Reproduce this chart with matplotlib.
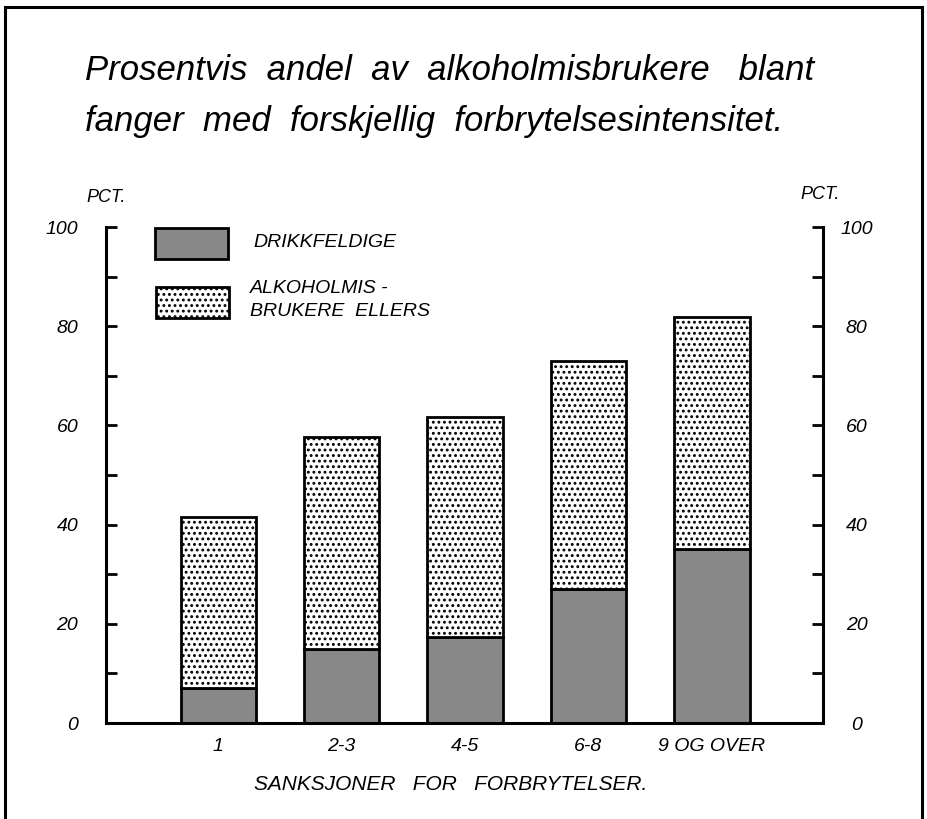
import matplotlib
matplotlib.use("Agg")
import matplotlib.pyplot as plt
import matplotlib.transforms as mtransforms
from matplotlib import font_manager
from matplotlib.patches import Rectangle
import numpy as np

# data
categories = ["1", "2-3", "4-5", "6-8", "9 OG OVER"]
drikkfeldige = [7.1, 14.9, 17.3, 27.0, 35.1]
totalt = [41.5, 57.7, 61.7, 73.0, 81.9]
ellers = [t - d for t, d in zip(totalt, drikkfeldige)]
yticks = [0, 20, 40, 60, 80, 100]

title_lines = ["Prosentvis  andel  av  alkoholmisbrukere   blant",
               "fanger  med  forskjellig  forbrytelsesintensitet."]
xlabel = "SANKSJONER   FOR   FORBRYTELSER."
legend_labels = ["DRIKKFELDIGE", "ALKOHOLMIS -\nBRUKERE  ELLERS"]

names = {f.name for f in font_manager.fontManager.ttflist}
FONT = "Liberation Sans" if "Liberation Sans" in names else "DejaVu Sans"
plt.rcParams['font.family'] = [FONT, 'DejaVu Sans']
plt.rcParams['font.style'] = 'italic'
plt.rcParams['hatch.linewidth'] = 1.3

DARK = '#888888'

fig = plt.figure(figsize=(9.28, 8.19), dpi=100)
fig.patch.set_facecolor('white')

# outer frame
fig.patches.append(Rectangle((5/928, -0.05), 917/928, 1.05 - 7/819, transform=fig.transFigure,
                             fill=False, lw=2.2, ec='black'))

# title
fig.text(85/928, 1 - 70/819, title_lines[0], fontsize=25, va='center', ha='left')
fig.text(85/928, 1 - 122/819, title_lines[1], fontsize=25, va='center', ha='left')

ax = fig.add_axes([106/928, 96/819, 717/928, 496/819])
x = np.arange(len(categories))
w = 0.61
ax.bar(x, drikkfeldige, w, color=DARK, edgecolor='black', lw=2)
ax.bar(x, ellers, w, bottom=drikkfeldige, color='white', edgecolor='black',
       lw=2, hatch='...')

ax.set_xlim(-0.91, 4.9)
ax.set_ylim(0, 100)
ax.spines['top'].set_visible(False)
for s in ['left', 'right', 'bottom']:
    ax.spines[s].set_linewidth(2.2)

ax.set_xticks(x)
ax.set_xticklabels(categories, fontsize=14)
ax.tick_params(axis='x', length=0, pad=11)

ax.set_yticks(yticks)
ax.set_yticks(np.arange(10, 100, 20), minor=True)
ax.tick_params(axis='y', which='both', direction='in', length=8, width=2,
               left=True, right=True, labelleft=True, labelright=True, labelsize=14)
ax.tick_params(axis='y', which='major', pad=20)
# right-hand labels sit a little further out, centred
shift = mtransforms.ScaledTranslation(6/100, 0, fig.dpi_scale_trans)
for t in ax.yaxis.get_major_ticks():
    t.label2.set_horizontalalignment('center')
    t.label2.set_transform(t.label2.get_transform() + shift)

ax.set_xlabel(xlabel, fontsize=15)
ax.xaxis.set_label_coords(0.481, -0.105)

ax.text(0.0, 1.06, "PCT.", transform=ax.transAxes, fontsize=13, ha='center', va='center')
ax.text(0.996, 1.065, "PCT.", transform=ax.transAxes, fontsize=13, ha='center', va='center')

# legend
ax.add_patch(Rectangle((0.0683, 0.935), 0.102, 0.063, transform=ax.transAxes,
                       facecolor=DARK, edgecolor='black', lw=2, clip_on=False))
ax.add_patch(Rectangle((0.0697, 0.817), 0.102, 0.062, transform=ax.transAxes,
                       facecolor='white', edgecolor='black', lw=2, hatch='...', clip_on=False))
ax.text(0.205, 0.968, legend_labels[0], transform=ax.transAxes, fontsize=14, va='center')
ax.text(0.201, 0.853, legend_labels[1], transform=ax.transAxes, fontsize=14, va='center',
        linespacing=1.4)

fig.savefig("out.png", dpi=100)
